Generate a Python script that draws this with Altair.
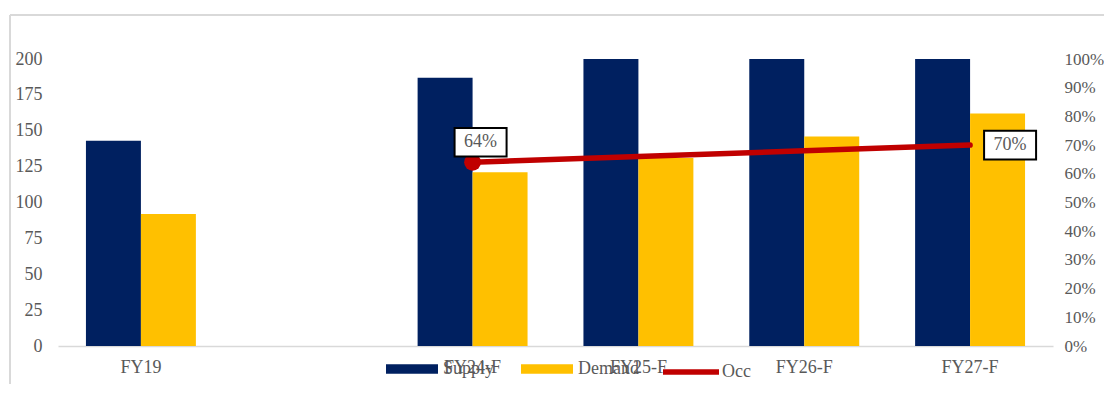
import altair as alt
import pandas as pd

categories = ["FY19", " ", "FY24-F", "FY25-F", "FY26-F", "FY27-F"]
supply = [143, None, 187, 200, 200, 200]
demand = [92, None, 121, 131, 146, 162]
occ = [None, None, 0.64, 0.66, 0.68, 0.70]
series_names = ["Supply", "Demand"]
colors = ["#002060", "#FFC000"]
occ_color = "#C00000"

FONT = "Liberation Serif"
TXT = "#595959"
FS = 18

rows = []
for c, s, d in zip(categories, supply, demand):
    if s is not None:
        rows.append({"cat": c, "series": "Supply", "value": s})
    if d is not None:
        rows.append({"cat": c, "series": "Demand", "value": d})
bars_df = pd.DataFrame(rows)

occ_df = pd.DataFrame(
    [{"cat": c, "occ": o, "line": "Occ"} for c, o in zip(categories, occ) if o is not None]
)

x_enc = alt.X(
    "cat:N",
    sort=categories,
    scale=alt.Scale(domain=categories, paddingInner=0.337, paddingOuter=0.1685),
    title=None,
    axis=alt.Axis(
        labelAngle=0, ticks=False, tickSize=0, grid=False,
        domainColor="#d9d9d9", domainWidth=1.5, labelPadding=12,
        labelFont=FONT, labelFontSize=FS, labelColor=TXT,
    ),
)

bars = alt.Chart(bars_df).mark_bar(opacity=1).encode(
    x=x_enc,
    xOffset=alt.XOffset("series:N", sort=series_names,
                        scale=alt.Scale(domain=series_names, paddingInner=0, paddingOuter=0)),
    y=alt.Y(
        "value:Q",
        scale=alt.Scale(domain=[0, 200], nice=False),
        title=None,
        axis=alt.Axis(
            values=list(range(0, 201, 25)), domain=False, ticks=False, tickSize=0,
            grid=False, labelPadding=16, labelFont=FONT, labelFontSize=FS, labelColor=TXT,
        ),
    ),
    color=alt.Color(
        "series:N",
        sort=series_names,
        scale=alt.Scale(domain=series_names, range=colors),
        legend=alt.Legend(
            title=None, orient="none", direction="horizontal", legendX=328, legendY=284,
            symbolType="M-1,-0.18H1V0.18H-1Z", symbolSize=2704, symbolStrokeWidth=0,
            labelOffset=5, columnPadding=26, padding=0,
            labelFont=FONT, labelFontSize=FS, labelColor=TXT,
        ),
    ),
)

frame_df = pd.DataFrame({"a": [0]})
frame_v = alt.Chart(frame_df).mark_rule(color="#d9d9d9", strokeWidth=2).encode(
    x=alt.value(-48), y=alt.value(-44), y2=alt.value(400)
)
frame_h = alt.Chart(frame_df).mark_rule(color="#d9d9d9", strokeWidth=2).encode(
    x=alt.value(-48), x2=alt.value(1100), y=alt.value(-44)
)

y_occ = alt.Y(
    "occ:Q",
    scale=alt.Scale(domain=[0, 1], nice=False),
    title=None,
    axis=alt.Axis(
        orient="right", format=".0%", values=[i / 10 for i in range(11)],
        domain=False, ticks=False, tickSize=0, grid=False, labelPadding=11,
        labelFont=FONT, labelFontSize=17, labelColor=TXT,
    ),
)

line = alt.Chart(occ_df).mark_line(strokeWidth=5.5, strokeCap="round").encode(
    x=x_enc,
    y=y_occ,
    stroke=alt.Stroke(
        "line:N",
        scale=alt.Scale(domain=["Occ"], range=[occ_color]),
        legend=alt.Legend(
            title=None, orient="none", direction="horizontal", legendX=602, legendY=282,
            symbolType="stroke", symbolSize=3136, symbolStrokeWidth=5.5,
            labelOffset=0, padding=0,
            labelFont=FONT, labelFontSize=FS, labelColor=TXT,
        ),
    ),
)

first = occ_df[occ_df["cat"] == "FY24-F"]
last = occ_df[occ_df["cat"] == "FY27-F"]

dot = alt.Chart(first).mark_point(filled=True, opacity=1, size=283, color=occ_color).encode(
    x=x_enc, y=y_occ
)

box_shape = "M-1,-0.55H1V0.55H-1Z"

def label_layers(df, dx, dy):
    box = alt.Chart(df).mark_point(
        shape=box_shape, size=2704, filled=False, fill="white", stroke="black",
        strokeWidth=2, opacity=1, fillOpacity=1, xOffset=dx, yOffset=dy,
    ).encode(x=x_enc, y=y_occ)
    txt = alt.Chart(df).mark_text(
        font=FONT, fontSize=FS, color=TXT, xOffset=dx, yOffset=dy,
        align="center", baseline="middle",
    ).encode(x=x_enc, y=y_occ, text=alt.Text("occ:Q", format=".0%"))
    return [box, txt]

occ_layer = alt.layer(line, dot, *label_layers(first, 8, -20), *label_layers(last, 40, 0))

chart = alt.layer(
    alt.layer(frame_v, frame_h, bars), occ_layer
).resolve_scale(y="independent").properties(
    width=995, height=287,
    autosize=alt.AutoSizeParams(type="none"),
    padding={"left": 50, "top": 51, "right": 51, "bottom": 38},
).configure_view(stroke=None)

chart.save("out.html", embed_options={"renderer": "svg", "actions": False})
